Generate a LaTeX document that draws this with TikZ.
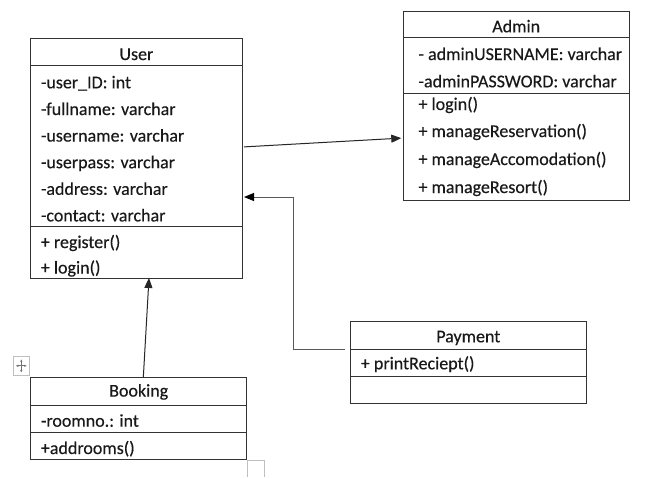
\documentclass[tikz,border=0pt]{standalone}
\usepackage{fontspec}
\setmainfont{Carlito}[FakeBold=0.3]
\usetikzlibrary{arrows.meta}
\begin{document}
\begin{tikzpicture}[x=1pt,y=-1pt,
  umlbox/.style={draw=black!80, line width=1pt, inner sep=0pt, outer sep=0pt, anchor=north west},
  sepline/.style={draw=black!80, line width=1pt},
  txt/.style={anchor=base west, inner sep=0pt, font=\fontsize{18}{20}\selectfont, text=black!90},
  ttl/.style={anchor=base, inner sep=0pt, font=\fontsize{18}{20}\selectfont, text=black!90},
  conn/.style={line width=1pt, draw=black!85, -{Triangle[length=10pt,width=8pt]}},
  connb/.style={line width=1pt, draw=black!65, -{Triangle[length=10pt,width=8pt,color=black]}}
]
\useasboundingbox (0,0) rectangle (645,477);
\fill[white] (0,0) rectangle (645,477);

% User
\node[umlbox, minimum width=211.3pt, minimum height=239.5pt] (user) at (30.7,38.5) {};
\draw[sepline] (user.west |- 0,65.7) -- (user.east |- 0,65.7);
\draw[sepline] (user.west |- 0,226) -- (user.east |- 0,226);
\node[ttl] (userT) at (136.4,60) {User};
\node[txt] (u1) at (40.7,88.3) {-user\_ID: int};
\node[txt] (u2) at (40.7,115) {-fullname: varchar};
\node[txt] (u3) at (40.7,141.6) {-username: varchar};
\node[txt] (u4) at (40.7,168.2) {-userpass: varchar};
\node[txt] (u5) at (40.7,194.8) {-address: varchar};
\node[txt] (u6) at (40.7,221.4) {-contact: varchar};
\node[txt] (u7) at (40.7,248) {+ register()};
\node[txt] (u8) at (40.7,273.5) {+ login()};

% Admin
\node[umlbox, minimum width=225.7pt, minimum height=188.3pt] (admin) at (403.3,11.7) {};
\draw[sepline] (admin.west |- 0,37.3) -- (admin.east |- 0,37.3);
\draw[sepline] (admin.west |- 0,93.3) -- (admin.east |- 0,93.3);
\node[ttl] (adminT) at (516.2,32.3) {Admin};
\node[txt] (a1) at (418.3,60) {- adminUSERNAME: varchar};
\node[txt] (a2) at (418.3,87.3) {-adminPASSWORD: varchar};
\node[txt] (a3) at (418.3,110) {+ login()};
\node[txt] (a4) at (418.3,137) {+ manageReservation()};
\node[txt] (a5) at (418.3,165) {+ manageAccomodation()};
\node[txt] (a6) at (418.3,193) {+ manageResort()};

% Booking
\node[umlbox, minimum width=216pt, minimum height=81.6pt] (booking) at (30.7,377.7) {};
\draw[sepline] (booking.west |- 0,405.3) -- (booking.east |- 0,405.3);
\draw[sepline] (booking.west |- 0,432.7) -- (booking.east |- 0,432.7);
\node[ttl] (bookingT) at (138.7,396.6) {Booking};
\node[txt] (b1) at (40.7,426.7) {-roomno.: int};
\node[txt] (b2) at (40.7,454) {+addrooms()};

% Payment
\node[umlbox, minimum width=235.3pt, minimum height=81.6pt] (payment) at (350.7,321.7) {};
\draw[sepline] (payment.west |- 0,349) -- (payment.east |- 0,349);
\draw[sepline] (payment.west |- 0,376.7) -- (payment.east |- 0,376.7);
\node[ttl] (paymentT) at (468.3,342.3) {Payment};
\node[txt] (p1) at (360.7,369.3) {+ printReciept()};

% connectors
\draw[conn, shorten <=2pt, shorten >=2pt] (user.east |- 0,147) -- (admin.west |- 0,138);
\draw[conn] (booking.north -| 143.3,0) -- (user.south -| 149,0);
\draw[connb, shorten <=5.7pt, shorten >=2pt] (payment.west |- 0,349) -| (293,197) -- (user.east |- 0,197);

% editor handles
\draw[gray!50, line width=0.8pt] (13.3,356.7) rectangle (29.3,375);
\draw[black!55, line width=0.7pt, {Latex[length=2.5pt,width=2.5pt]}-{Latex[length=2.5pt,width=2.5pt]}] (15.8,365.8) -- (26.8,365.8);
\draw[black!55, line width=0.7pt, {Latex[length=2.5pt,width=2.5pt]}-{Latex[length=2.5pt,width=2.5pt]}] (21.3,359.2) -- (21.3,372.4);
\draw[gray!50, line width=1pt] (247.7,477) -- (247.7,460.7) -- (264.3,460.7) -- (264.3,477);
\end{tikzpicture}
\end{document}
